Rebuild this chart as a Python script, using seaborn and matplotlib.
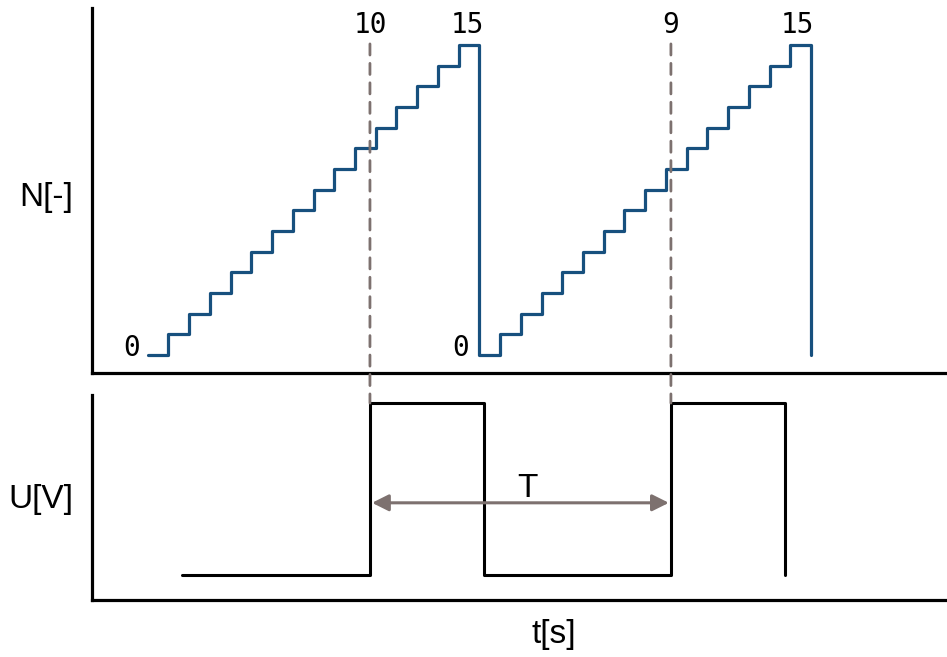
import numpy as np
import pandas as pd
import seaborn as sns
import matplotlib.pyplot as plt
from matplotlib.patches import ConnectionPatch

# counter N over time (two ramps 0..15, then reset)
step_t = [0, 1, 2, 3, 4, 5, 6, 7, 8, 9, 10, 11, 12, 13, 14, 15,
          16, 17, 18, 19, 20, 21, 22, 23, 24, 25, 26, 27, 28, 29, 30, 31, 32]
counts = [0, 1, 2, 3, 4, 5, 6, 7, 8, 9, 10, 11, 12, 13, 14, 15,
          0, 1, 2, 3, 4, 5, 6, 7, 8, 9, 10, 11, 12, 13, 14, 15, 0]

# output voltage U (square wave)
edge_t = [1.65, 10.72, 16.2, 25.24, 30.75]
volts = [0, 1, 0, 1, 0]

# markers on the counter
marker_t = [10.72, 25.24]
marker_lbl = ['10', '9']
peak_t = [15.4, 31.35]
peak_lbl = ['15', '15']
zero_t = [-0.76, 15.11]
zero_lbl = ['0', '0']

blue = '#17507e'
grey = '#7d716f'

sns.set_style('white')
plt.rcParams['font.family'] = ['Liberation Sans', 'DejaVu Sans']
plt.rcParams['text.color'] = 'black'
plt.rcParams['axes.labelcolor'] = 'black'

fig = plt.figure(figsize=(9.47, 6.57), dpi=100)
ax1 = fig.add_axes([92 / 947, 0.4323, 855 / 947, 0.5556])
ax2 = fig.add_axes([92 / 947, 0.0868, 855 / 947, 0.312])

df_n = pd.DataFrame({'t': step_t, 'N': counts})
df_u = pd.DataFrame({'t': edge_t, 'U': volts})

sns.lineplot(data=df_n, x='t', y='N', ax=ax1, color=blue, lw=2.3,
             drawstyle='steps-post', estimator=None)
sns.lineplot(data=df_u, x='t', y='U', ax=ax2, color='black', lw=2.2,
             drawstyle='steps-post', estimator=None)

xlim = (-2.69, 38.56)
ax1.set_xlim(xlim)
ax2.set_xlim(xlim)
ax1.set_ylim(-0.87, 16.79)
ax2.set_ylim(-0.145, 1.047)

for ax in (ax1, ax2):
    sns.despine(ax=ax)
    for s in ('left', 'bottom'):
        ax.spines[s].set_linewidth(2.3)
        ax.spines[s].set_color('black')
    ax.set_xticks([])
    ax.set_yticks([])
    ax.set_xlabel('')

ax1.set_ylabel('N[-]', rotation=0, fontsize=24, ha='right', va='center')
ax1.yaxis.set_label_coords(-0.022, 0.48)
ax2.set_ylabel('U[V]', rotation=0, fontsize=24, ha='right', va='center')
ax2.yaxis.set_label_coords(-0.022, 0.49)
ax2.set_xlabel('t[s]', fontsize=24, va='center')
ax2.xaxis.set_label_coords(0.54, -0.17)

mono = 'DejaVu Sans Mono'
for t, lbl in zip(marker_t, marker_lbl):
    ax1.text(t, 15.58, lbl, ha='center', va='baseline', fontsize=20, family=mono)
    con = ConnectionPatch(xyA=(t, 15.05), coordsA=ax1.transData,
                          xyB=(t, 1.0), coordsB=ax2.transData,
                          color=grey, lw=2.0, linestyle=(0, (4, 3)), zorder=1)
    fig.add_artist(con)
for t, lbl in zip(peak_t, peak_lbl):
    ax1.text(t, 15.58, lbl, ha='center', va='baseline', fontsize=20, family=mono)
for t, lbl in zip(zero_t, zero_lbl):
    ax1.text(t, -0.05, lbl, ha='center', va='baseline', fontsize=20, family=mono)

# period arrow
ax2.annotate('', xy=(marker_t[0] + 0.1, 0.42), xytext=(marker_t[1] - 0.1, 0.42),
             arrowprops=dict(arrowstyle='<|-|>', color=grey, lw=2.2,
                             mutation_scale=25, shrinkA=0, shrinkB=0))
ax2.text(18.3, 0.455, 'T', ha='center', va='baseline', fontsize=24)

plt.savefig('out.png', dpi=100)
